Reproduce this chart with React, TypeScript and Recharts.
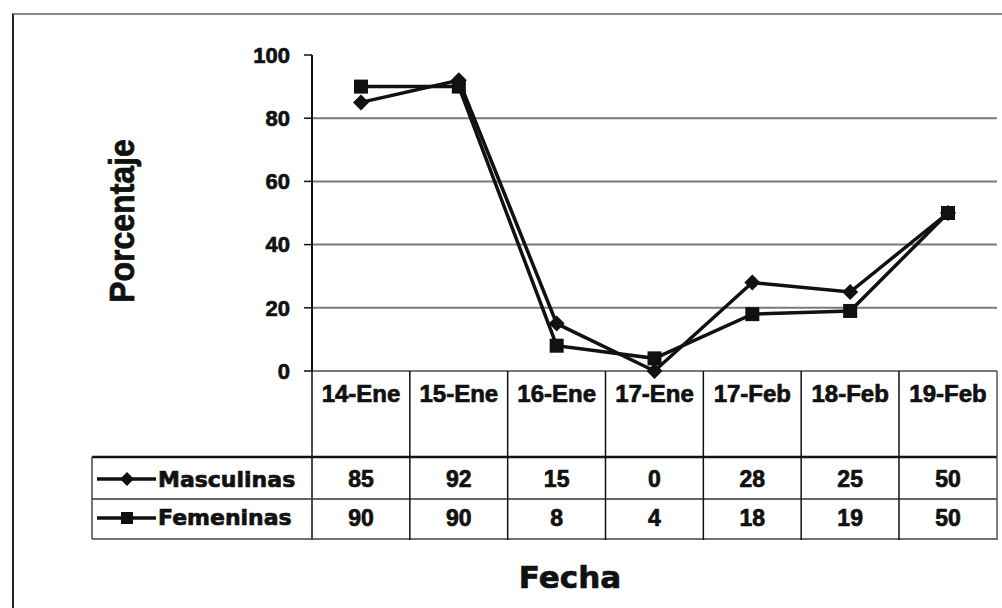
import React from 'react';
import { LineChart, Line, XAxis, YAxis, ReferenceLine } from 'recharts';

const fechas = ['14-Ene', '15-Ene', '16-Ene', '17-Ene', '17-Feb', '18-Feb', '19-Feb'];
const masculinas = [85, 92, 15, 0, 28, 25, 50];
const femeninas = [90, 90, 8, 4, 18, 19, 50];
const yTicks = [0, 20, 40, 60, 80, 100];
const gridValues = [20, 40, 60, 80];

const data = fechas.map((fecha, i) => ({
  fecha,
  masculinas: masculinas[i],
  femeninas: femeninas[i],
}));

const ARIAL = '"Liberation Sans", Arial, sans-serif';
const DEJAVU = '"DejaVu Sans", sans-serif';
const INK = '#111';
const COL = 98;

// the scan renders text heavier than a plain bold, a thin stroke gets close
const heavy = { stroke: INK, strokeWidth: 0.7 };

const Diamante = ({ cx, cy, size = 8 }: { cx: number; cy: number; size?: number }) => (
  <path d={`M${cx},${cy - size}L${cx + size},${cy}L${cx},${cy + size}L${cx - size},${cy}Z`} fill={INK} />
);

const Cuadro = ({ cx, cy, size = 7 }: { cx: number; cy: number; size?: number }) => (
  <rect x={cx - size} y={cy - size} width={size * 2} height={size * 2} fill={INK} />
);

// each x tick draws its column of the data table below the plot
const TablaTick = (props: any) => {
  const { x, payload, index } = props;
  const left = x - COL / 2;
  const right = x + COL / 2;
  const valStyle = { fontFamily: ARIAL, fontWeight: 700, fontSize: 23, fill: INK, ...heavy };
  const legStyle = { fontFamily: DEJAVU, fontWeight: 700, fontSize: 22, fill: INK, ...heavy };
  return (
    <g>
      <line x1={left} y1={371} x2={left} y2={540} stroke={INK} strokeWidth={1.5} />
      {index === fechas.length - 1 && (
        <line x1={right} y1={371} x2={right} y2={540} stroke="#555" strokeWidth={1.5} />
      )}
      <text x={x} y={402} textAnchor="middle" style={{ fontFamily: ARIAL, fontWeight: 700, fontSize: 24, fill: INK, ...heavy }}>
        {payload.value}
      </text>
      <text x={x} y={487} textAnchor="middle" style={valStyle}>{masculinas[index]}</text>
      <text x={x} y={526} textAnchor="middle" style={valStyle}>{femeninas[index]}</text>
      {index === 0 && (
        <g>
          <line x1={92} y1={457} x2={997} y2={457} stroke={INK} strokeWidth={2.5} />
          <line x1={92} y1={499} x2={997} y2={499} stroke="#333" strokeWidth={1.5} />
          <line x1={92} y1={539} x2={997} y2={539} stroke="#444" strokeWidth={1.5} />
          <line x1={92} y1={457} x2={92} y2={539} stroke="#444" strokeWidth={1.5} />
          <line x1={97} y1={479} x2={156} y2={479} stroke={INK} strokeWidth={3.5} />
          <Diamante cx={127} cy={479} size={7} />
          <text x={158} y={487} style={legStyle}>Masculinas</text>
          <line x1={97} y1={518} x2={156} y2={518} stroke={INK} strokeWidth={3.5} />
          <Cuadro cx={127} cy={518} size={6} />
          <text x={158} y={525} style={legStyle}>Femeninas</text>
        </g>
      )}
    </g>
  );
};

export default function App() {
  return (
    <div
      style={{
        position: 'absolute',
        left: 0,
        top: 0,
        width: 1002,
        height: 608,
        background: '#fff',
      }}
    >
      <div
        style={{
          position: 'absolute',
          left: 12,
          top: 13,
          width: 990,
          height: 595,
          borderLeft: '2px solid #222',
          borderTop: '2px solid #888',
        }}
      />
      <LineChart width={1002} height={608} data={data} margin={{ top: 55, right: 5, bottom: 0, left: 112 }}>
        {gridValues.map((v) => (
          <ReferenceLine key={v} y={v} stroke="#7a7a7a" strokeWidth={2} />
        ))}
        <XAxis
          dataKey="fecha"
          height={237}
          interval={0}
          padding={{ left: 49, right: 49 }}
          axisLine={{ stroke: '#777', strokeWidth: 2 }}
          tickLine={false}
          tick={<TablaTick />}
          label={{
            content: () => (
              <text x={570} y={588} textAnchor="middle" style={{ fontFamily: DEJAVU, fontWeight: 700, fontSize: 31, fill: INK, ...heavy }}>
                Fecha
              </text>
            ),
          }}
        />
        <YAxis
          width={200}
          domain={[0, 100]}
          ticks={yTicks}
          tickSize={8}
          tickMargin={14}
          axisLine={{ stroke: INK, strokeWidth: 2 }}
          tickLine={{ stroke: INK, strokeWidth: 1.5 }}
          tick={{ fontFamily: ARIAL, fontWeight: 700, fontSize: 22, fill: INK, stroke: INK, strokeWidth: 0.7 }}
          label={{
            content: () => (
              <text
                transform="translate(134,221) scale(1.1,1) rotate(-90)"
                textAnchor="middle"
                style={{ fontFamily: ARIAL, fontWeight: 700, fontSize: 32, fill: INK, ...heavy }}
              >
                Porcentaje
              </text>
            ),
          }}
        />
        <Line
          dataKey="femeninas"
          stroke={INK}
          strokeWidth={3.5}
          isAnimationActive={false}
          dot={(p: any) => <Cuadro key={`f-${p.index}`} cx={p.cx} cy={p.cy} size={7} />}
          activeDot={false}
        />
        <Line
          dataKey="masculinas"
          stroke={INK}
          strokeWidth={3.5}
          isAnimationActive={false}
          dot={(p: any) => <Diamante key={`m-${p.index}`} cx={p.cx} cy={p.cy} size={8} />}
          activeDot={false}
        />
      </LineChart>
    </div>
  );
}
